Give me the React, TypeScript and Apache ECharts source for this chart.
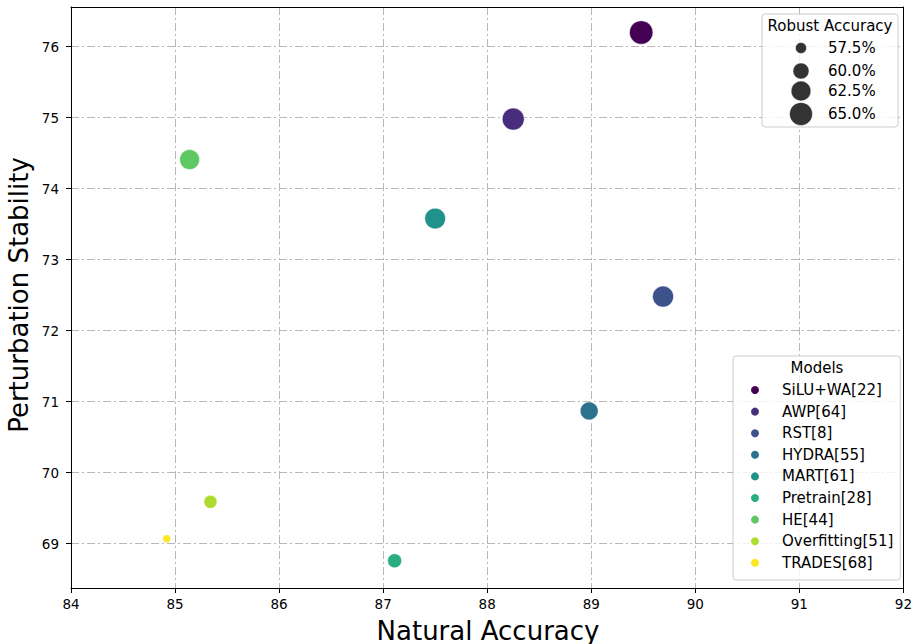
import React, { useEffect, useRef } from "react";
import * as echarts from "echarts";

const models = [
  "SiLU+WA[22]",
  "AWP[64]",
  "RST[8]",
  "HYDRA[55]",
  "MART[61]",
  "Pretrain[28]",
  "HE[44]",
  "Overfitting[51]",
  "TRADES[68]",
];
const naturalAccuracy = [89.48, 88.25, 89.69, 88.98, 87.5, 87.11, 85.14, 85.34, 84.92];
const perturbationStability = [76.2, 74.98, 72.48, 70.87, 73.58, 68.76, 74.41, 69.59, 69.07];
const robustAccuracy = [65.4, 64.2, 63.4, 61.2, 63.2, 58.9, 62.6, 58.4, 56.5];
const modelColors = [
  "#440154",
  "#472d7b",
  "#3b528b",
  "#2c728e",
  "#21918c",
  "#28ae80",
  "#5ec962",
  "#addc30",
  "#fde725",
];
const sizeLegendValues = [57.5, 60.0, 62.5, 65.0];
const xTicks = [84, 85, 86, 87, 88, 89, 90, 91, 92];
const yTicks = [69, 70, 71, 72, 73, 74, 75, 76];

const FONT = "DejaVu Sans";

// marker area grows linearly with robust accuracy
function diameter(v: number): number {
  return Math.sqrt(Math.max(0, 54.4 * (v - 55.28)));
}

export default function App() {
  const ref = useRef<HTMLDivElement>(null);

  useEffect(() => {
    if (!ref.current) return;
    const chart = echarts.init(ref.current, null, { renderer: "svg" });

    const sizeRowsY = [48, 71, 91, 114];

    const option: any = {
      animation: false,
      backgroundColor: "#ffffff",
      textStyle: { fontFamily: FONT },
      grid: { left: 71, top: 7, right: 9, bottom: 56, containLabel: false },
      xAxis: [
        {
          type: "value",
          min: xTicks[0],
          max: xTicks[xTicks.length - 1],
          interval: 1,
          axisLine: { show: true, onZero: false, lineStyle: { color: "#000", width: 1 } },
          axisTick: { show: true, inside: false, length: 5, lineStyle: { color: "#000", width: 1 } },
          axisLabel: { show: true, color: "#000", fontSize: 13.5, margin: 9, fontFamily: FONT },
          splitLine: { show: true, lineStyle: { color: "#b8b8b8", width: 1, type: [8, 3, 2, 3] } },
        },
        {
          type: "value",
          position: "top",
          min: xTicks[0],
          max: xTicks[xTicks.length - 1],
          interval: 1,
          axisLine: { show: true, onZero: false, lineStyle: { color: "#000", width: 1 } },
          axisTick: { show: false },
          axisLabel: { show: false },
          splitLine: { show: false },
        },
      ],
      yAxis: [
        {
          type: "value",
          min: 68.376,
          max: 76.559,
          axisLine: { show: true, onZero: false, lineStyle: { color: "#000", width: 1 } },
          axisTick: {
            show: true,
            inside: false,
            length: 5,
            customValues: yTicks,
            lineStyle: { color: "#000", width: 1 },
          },
          axisLabel: {
            show: true,
            color: "#000",
            fontSize: 13.5,
            margin: 12,
            fontFamily: FONT,
            customValues: yTicks,
          },
          splitLine: { show: true, lineStyle: { color: "#b8b8b8", width: 1, type: [8, 3, 2, 3] } },
        },
        {
          type: "value",
          position: "right",
          min: 68.376,
          max: 76.559,
          axisLine: { show: true, onZero: false, lineStyle: { color: "#000", width: 1 } },
          axisTick: { show: false },
          axisLabel: { show: false },
          splitLine: { show: false },
        },
      ],
      legend: {
        show: true,
        data: models,
        orient: "vertical",
        left: 733,
        top: 356,
        icon: "circle",
        itemWidth: 44,
        itemHeight: 10,
        itemGap: 5.6,
        padding: [26, 7, 9.2, 16],
        selectedMode: false,
        backgroundColor: "rgba(255,255,255,0.8)",
        borderColor: "#cccccc",
        borderWidth: 1,
        borderRadius: 3,
        textStyle: { fontSize: 15, lineHeight: 16, color: "#000", fontFamily: FONT },
        z: 20,
      },
      series: models.map((name, i) => ({
        type: "scatter",
        name,
        xAxisIndex: 0,
        yAxisIndex: 0,
        data: [[naturalAccuracy[i], perturbationStability[i], robustAccuracy[i]]],
        symbol: "circle",
        symbolSize: (val: number[]) => diameter(val[2]),
        itemStyle: { color: modelColors[i], opacity: 1, borderColor: "#ffffff", borderWidth: 0.5 },
        emphasis: { disabled: true },
        z: 5,
      })),
      graphic: [
        {
          type: "rect",
          z: 100,
          shape: { x: 762, y: 14, width: 136, height: 113, r: 3 },
          style: { fill: "rgba(255,255,255,0.8)", stroke: "#cccccc", lineWidth: 1 },
        },
        {
          type: "text",
          z: 101,
          x: 830,
          y: 26,
          style: {
            text: "Robust Accuracy",
            fontSize: 15,
            fontFamily: FONT,
            fill: "#000",
            align: "center",
            verticalAlign: "middle",
          },
        },
        ...sizeLegendValues.map((v, i) => ({
          type: "circle",
          z: 101,
          shape: { cx: 801, cy: sizeRowsY[i], r: diameter(v) / 2 },
          style: { fill: "#333333", stroke: "#ffffff", lineWidth: 0.5 },
        })),
        ...sizeLegendValues.map((v, i) => ({
          type: "text",
          z: 101,
          x: 828,
          y: sizeRowsY[i],
          style: {
            text: `${v.toFixed(1)}%`,
            fontSize: 15,
            fontFamily: FONT,
            fill: "#000",
            align: "left",
            verticalAlign: "middle",
          },
        })),
        {
          type: "text",
          z: 101,
          x: 817,
          y: 368,
          style: {
            text: "Models",
            fontSize: 15,
            fontFamily: FONT,
            fill: "#000",
            align: "center",
            verticalAlign: "middle",
          },
        },
        {
          type: "text",
          z: 101,
          x: 488,
          y: 631,
          style: {
            text: "Natural Accuracy",
            fontSize: 26,
            fontFamily: FONT,
            fill: "#000",
            align: "center",
            verticalAlign: "middle",
          },
        },
        {
          type: "text",
          z: 101,
          x: 19,
          y: 295,
          rotation: Math.PI / 2,
          style: {
            text: "Perturbation Stability",
            fontSize: 26,
            fontFamily: FONT,
            fill: "#000",
            align: "center",
            verticalAlign: "middle",
          },
        },
      ],
    };

    chart.setOption(option);
    return () => {
      chart.dispose();
    };
  }, []);

  return (
    <div
      ref={ref}
      style={{ position: "absolute", left: 0, top: 0, width: 915, height: 644 }}
    />
  );
}
